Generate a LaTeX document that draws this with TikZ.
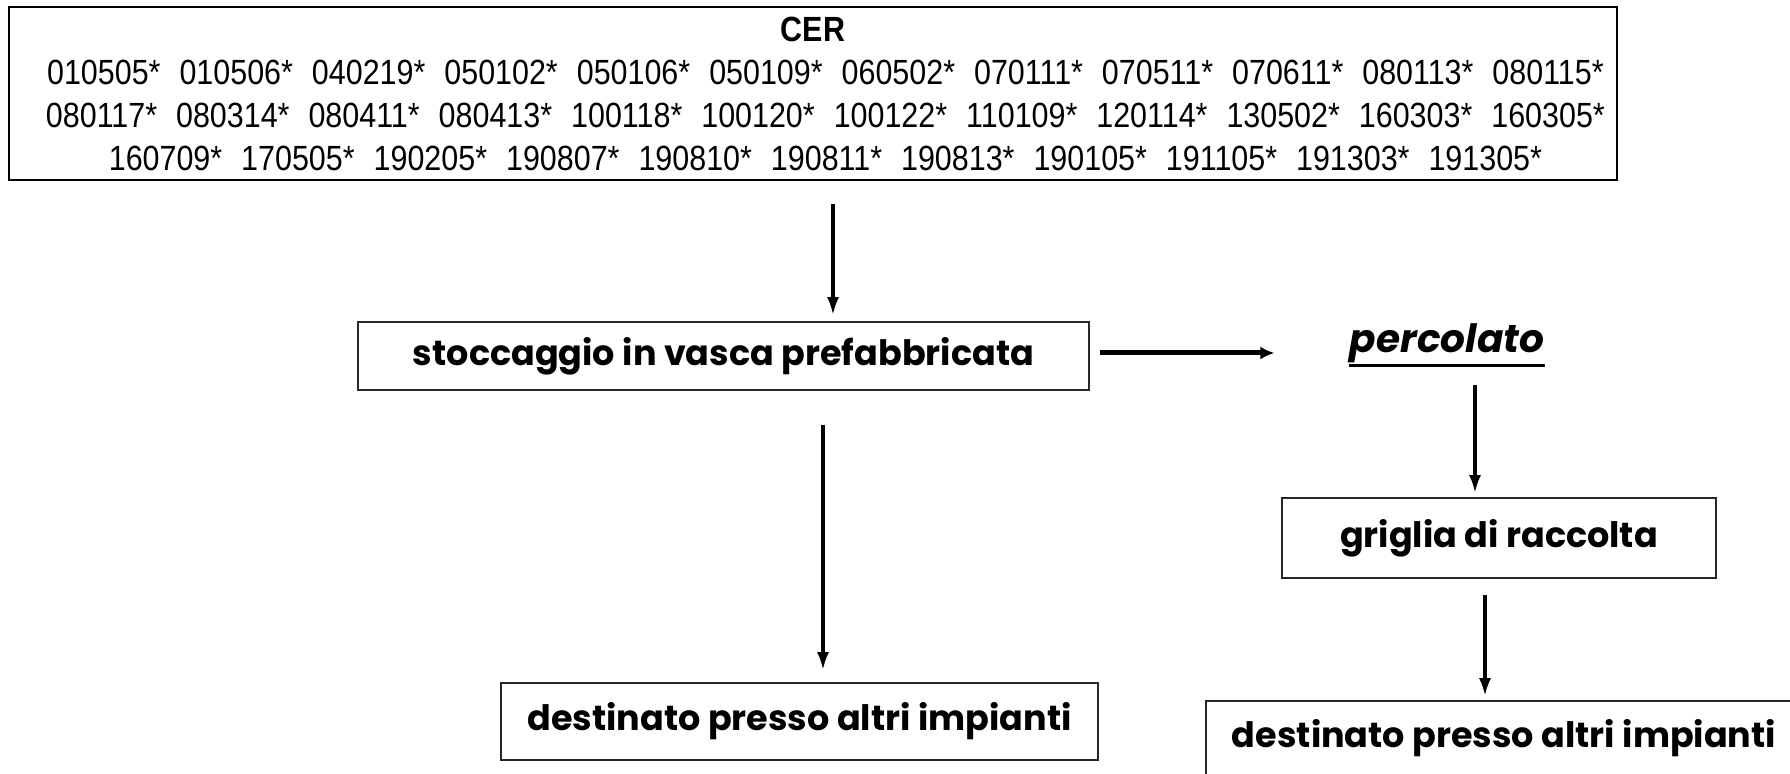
\documentclass[tikz,border=0pt]{standalone}
\usepackage{fontspec}
\setmainfont{Liberation Sans}
\newfontfamily\narrowfont[FakeStretch=0.87]{Liberation Sans}
\newfontfamily\gothic{Poppins}
\newcommand\cgap{\hspace{9.5pt}}
\newcommand\cindent{\hspace*{12.6pt}}
\usepackage{tikz}
\usetikzlibrary{arrows.meta,calc}

\begin{document}
\begin{tikzpicture}[
    x=0.5pt, y=-0.5pt,
    codes/.style={rectangle, draw=black, line width=1pt, inner sep=0pt, align=center, minimum width=804pt, minimum height=86.5pt, font=\narrowfont\fontsize{17.5}{21.5}\selectfont},
    stepbox/.style={rectangle, draw=black!85, line width=0.8pt, inner sep=0pt, align=center, font=\gothic\bfseries\fontsize{17.5}{20}\selectfont},
    arrow/.style={-{Latex[length=9pt,width=6pt]}, line width=1.7pt},
    thickarrow/.style={-{Latex[length=7pt,width=6.5pt]}, line width=2.5pt}
]
\useasboundingbox (0,0) rectangle (1790,774);
\fill[white] (0,0) rectangle (1790,774);

% CER codes
\node[codes] (cer) at (813,93.5) {\textbf{CER}\\
\cindent010505*\cgap010506*\cgap040219*\cgap050102*\cgap050106*\cgap050109*\cgap060502*\cgap070111*\cgap070511*\cgap070611*\cgap080113*\cgap080115*\\
\cindent080117*\cgap080314*\cgap080411*\cgap080413*\cgap100118*\cgap100120*\cgap100122*\cgap110109*\cgap120114*\cgap130502*\cgap160303*\cgap160305*\\
\cindent160709*\cgap170505*\cgap190205*\cgap190807*\cgap190810*\cgap190811*\cgap190813*\cgap190105*\cgap191105*\cgap191303*\cgap191305*};

% Storage and leachate
\node[stepbox, minimum width=365.5pt, minimum height=34pt] (stocc) at (723.5,356) {stoccaggio in vasca prefabbricata};
\node[inner sep=0pt, font=\gothic\bfseries\itshape\fontsize{19.5}{22}\selectfont] (perc) at (1447,343) {percolato};
\draw[line width=1.5pt] ([yshift=-1pt]perc.south west) -- ([yshift=-1pt]perc.south east);
\node[stepbox, minimum width=217pt, minimum height=40pt] (grig) at (1499,538) {griglia di raccolta};

% Destinations
\node[stepbox, minimum width=298.5pt, minimum height=38.5pt] (dest1) at (799.5,721.5) {destinato presso altri impianti};
\node[stepbox, minimum width=298pt, minimum height=37.5pt] (dest2) at (1504,738.5) {destinato presso altri impianti};

% Arrows
\draw[arrow, shorten <=11.5pt, shorten >=3pt] ([xshift=10pt]cer.south) -- ([xshift=10pt]cer.south |- stocc.north);
\draw[thickarrow, shorten <=5pt, shorten >=37.5pt] ([yshift=1.5pt]stocc.east) -- ([yshift=1.5pt]stocc.east -| perc.west);
\draw[arrow, shorten <=17pt, shorten >=6pt] ([xshift=49.75pt]stocc.south) -- ([xshift=49.75pt]stocc.south |- dest1.north);
\draw[arrow, shorten <=11pt, shorten >=2pt] ([xshift=14pt]perc.south) -- ([xshift=14pt]perc.south |- grig.north);
\draw[arrow, shorten <=8pt, shorten >=2pt] ([xshift=-7pt]grig.south) -- ([xshift=-7pt]grig.south |- dest2.north);

\end{tikzpicture}
\end{document}
